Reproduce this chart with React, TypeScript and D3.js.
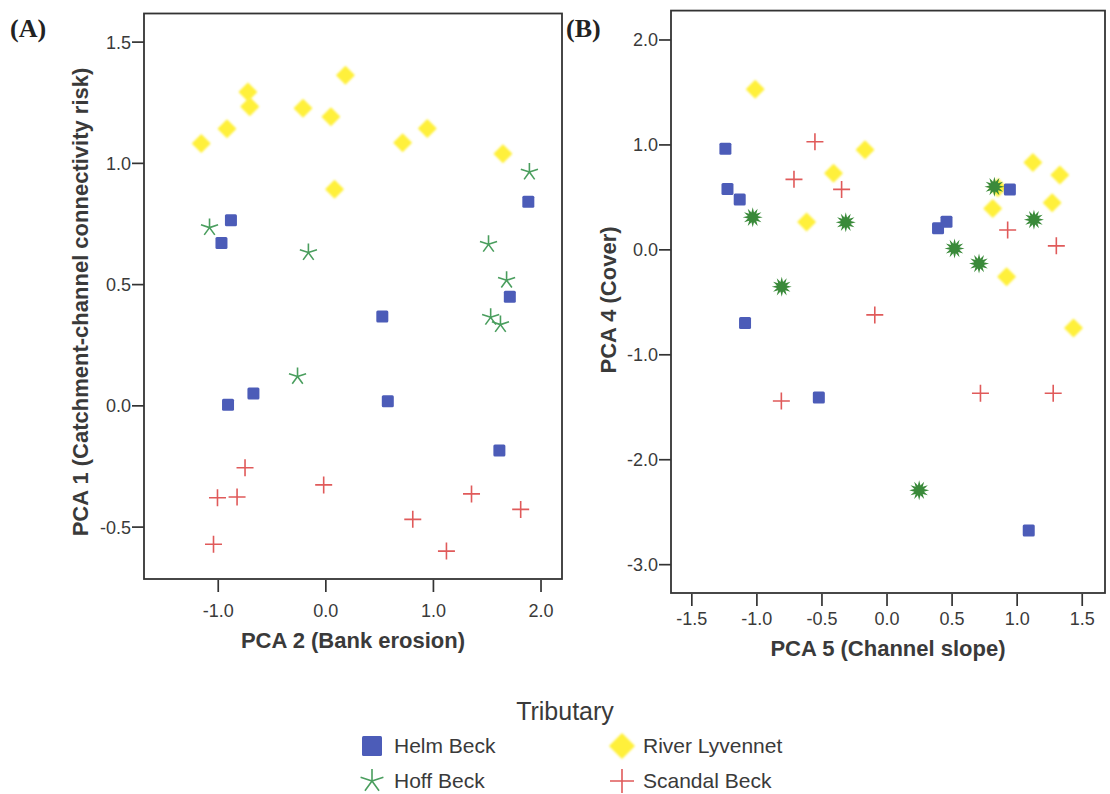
import React from "react";
import * as d3 from "d3";

// ---------- Panel A data: PCA 2 (x) vs PCA 1 (y) ----------
const helmA_x = [-0.882, -0.970, 1.882, 1.710, 0.525, -0.909, -0.673, 0.576, 1.613];
const helmA_y = [0.765, 0.672, 0.842, 0.450, 0.368, 0.005, 0.051, 0.019, -0.184];
const hoffA_x = [-1.081, -0.162, 1.892, 1.512, 1.680, 1.532, 1.623, -0.263];
const hoffA_y = [0.735, 0.632, 0.964, 0.666, 0.518, 0.365, 0.335, 0.121];
const lyvA_x = [-1.158, -0.919, -0.724, -0.707, -0.212, 0.047, 0.182, 0.081, 0.714, 0.943, 1.646];
const lyvA_y = [1.082, 1.143, 1.294, 1.234, 1.227, 1.192, 1.363, 0.893, 1.085, 1.144, 1.040];
const scanA_x = [-0.751, -1.007, -0.825, -1.044, -0.020, 0.808, 1.121, 1.354, 1.811];
const scanA_y = [-0.255, -0.379, -0.376, -0.571, -0.326, -0.468, -0.599, -0.363, -0.427];

// ---------- Panel B data: PCA 5 (x) vs PCA 4 (y) ----------
const helmB_x = [-1.242, -1.226, -1.132, 0.392, 0.457, 0.944, -1.091, -0.524, 1.089];
const helmB_y = [0.963, 0.579, 0.480, 0.205, 0.269, 0.576, -0.697, -1.408, -2.675];
const hoffB_x = [-1.032, -0.317, -0.809, 0.519, 0.707, 1.129, 0.825, 0.247];
const hoffB_y = [0.310, 0.262, -0.352, 0.013, -0.131, 0.288, 0.602, -2.292];
const lyvB_x = [-1.013, -0.169, -0.411, -0.618, 0.852, 0.812, 1.121, 1.328, 1.269, 0.919, 1.433];
const lyvB_y = [1.530, 0.954, 0.730, 0.266, 0.592, 0.394, 0.832, 0.714, 0.448, -0.256, -0.745];
const scanB_x = [-0.554, -0.715, -0.349, 0.927, 1.301, -0.094, -0.812, 0.718, 1.277];
const scanB_y = [1.030, 0.672, 0.576, 0.189, 0.038, -0.620, -1.440, -1.367, -1.367];

const ticksAx = [-1.0, 0.0, 1.0, 2.0];
const ticksAy = [1.5, 1.0, 0.5, 0.0, -0.5];
const ticksBx = [-1.5, -1.0, -0.5, 0.0, 0.5, 1.0, 1.5];
const ticksBy = [2.0, 1.0, 0.0, -1.0, -2.0, -3.0];

const tributaries = ["Helm Beck", "Hoff Beck", "River Lyvennet", "Scandal Beck"];

const C_BLUE = "#4c5cb8";
const C_GREEN = "#4a9e5e";
const C_GREEN_DARK = "#3a8a3a";
const C_YELLOW = "#fff03a";
const C_RED = "#e05a5a";
const TXT = "#3a3a3a";
const FONT = "'Liberation Sans', Arial, sans-serif";

function zip(xs: number[], ys: number[]) {
  return xs.map((x, i) => ({ x, y: ys[i] }));
}

function starPath(r: number, arms: number) {
  let d = "";
  for (let i = 0; i < arms; i++) {
    const a = -Math.PI / 2 + (i * 2 * Math.PI) / arms;
    d += `M0,0L${(r * Math.cos(a)).toFixed(2)},${(r * Math.sin(a)).toFixed(2)}`;
  }
  return d;
}

function burstPath(ro: number, ri: number, n: number) {
  const pts: string[] = [];
  for (let i = 0; i < n * 2; i++) {
    const a = -Math.PI / 2 + (i * Math.PI) / n;
    const r = i % 2 === 0 ? ro : ri;
    pts.push(`${(r * Math.cos(a)).toFixed(2)},${(r * Math.sin(a)).toFixed(2)}`);
  }
  return "M" + pts.join("L") + "Z";
}

function diamondPath(h: number) {
  return `M0,${-h}L${h},0L0,${h}L${-h},0Z`;
}

function crossPath(r: number) {
  return `M${-r},0L${r},0M0,${-r}L0,${r}`;
}

type PanelProps = {
  left: number; right: number; top: number; bottom: number;
  xDom: [number, number]; yDom: [number, number];
  xTicks: number[]; yTicks: number[];
  xTitle: string; yTitle: string; yTitleX: number; yTitleY: number;
  xLabOff: number; xTitleOff: number;
  helm: { x: number; y: number }[];
  hoff: { x: number; y: number }[];
  lyv: { x: number; y: number }[];
  scan: { x: number; y: number }[];
  burst: boolean;
  label: string; labelX: number;
};

function Panel(p: PanelProps) {
  const xs = d3.scaleLinear().domain(p.xDom).range([p.left, p.right]);
  const ys = d3.scaleLinear().domain(p.yDom).range([p.bottom, p.top]);
  const fmt = (v: number) => d3.format(".1f")(v).replace("\u2212", "-");
  const cx = (p.left + p.right) / 2;
  return (
    <g>
      <text x={p.labelX} y={37} fontFamily="'Liberation Serif', 'Times New Roman', serif" fontWeight="bold" fontSize={26} fill="#222">{p.label}</text>
      <rect x={p.left} y={p.top} width={p.right - p.left} height={p.bottom - p.top} fill="white" stroke="#333" strokeWidth={1.8} />
      {p.xTicks.map((t) => (
        <g key={"xt" + t}>
          <line x1={xs(t)} x2={xs(t)} y1={p.bottom + 1} y2={p.bottom + 13} stroke="#333" strokeWidth={1.7} />
          <text x={xs(t)} y={p.bottom + p.xLabOff} textAnchor="middle" fontFamily={FONT} fontSize={18} fill={TXT}>{fmt(t)}</text>
        </g>
      ))}
      {p.yTicks.map((t) => (
        <g key={"yt" + t}>
          <line x1={p.left - 12} x2={p.left} y1={ys(t)} y2={ys(t)} stroke="#333" strokeWidth={1.7} />
          <text x={p.left - 13} y={ys(t) + 6.5} textAnchor="end" fontFamily={FONT} fontSize={18} fill={TXT}>{fmt(t)}</text>
        </g>
      ))}
      <text x={cx} y={p.bottom + p.xTitleOff} textAnchor="middle" fontFamily={FONT} fontWeight="bold" fontSize={22} fill={TXT}>{p.xTitle}</text>
      <text transform={`translate(${p.yTitleX},${p.yTitleY}) rotate(-90)`} textAnchor="middle" fontFamily={FONT} fontWeight="bold" fontSize={22} fill={TXT}>{p.yTitle}</text>
      <g>
        {p.lyv.map((d, i) => (
          <path key={"l" + i} d={diamondPath(8.5)} transform={`translate(${xs(d.x)},${ys(d.y)})`} fill={C_YELLOW} stroke={C_YELLOW} strokeWidth={1.5} strokeLinejoin="round" filter="url(#soft)" />
        ))}
        {p.hoff.map((d, i) =>
          p.burst ? (
            <path key={"h" + i} d={burstPath(10, 5, 12)} transform={`translate(${xs(d.x)},${ys(d.y)})`} fill={C_GREEN_DARK} />
          ) : (
            <path key={"h" + i} d={starPath(9, 5)} transform={`translate(${xs(d.x)},${ys(d.y)})`} fill="none" stroke={C_GREEN} strokeWidth={1.6} />
          )
        )}
        {p.helm.map((d, i) => (
          <rect key={"b" + i} x={xs(d.x) - 6} y={ys(d.y) - 6} width={12} height={12} rx={1.5} fill={C_BLUE} />
        ))}
        {p.scan.map((d, i) => (
          <path key={"s" + i} d={crossPath(8.5)} transform={`translate(${xs(d.x)},${ys(d.y)})`} stroke={C_RED} strokeWidth={1.6} fill="none" />
        ))}
      </g>
    </g>
  );
}

export default function App() {
  return (
    <svg width={1110} height={794} style={{ position: "absolute", left: 0, top: 0, background: "white" }}>
      <defs>
        <filter id="soft" x="-50%" y="-50%" width="200%" height="200%">
          <feGaussianBlur stdDeviation="0.9" />
        </filter>
      </defs>
      <rect width={1110} height={794} fill="white" />
      <Panel
        left={144} right={562} top={13.5} bottom={579}
        xDom={[-1.69, 2.195]} yDom={[-0.714, 1.618]}
        xTicks={ticksAx} yTicks={ticksAy}
        xTitle="PCA 2 (Bank erosion)" yTitle="PCA 1 (Catchment-channel connectivity risk)" yTitleX={88} yTitleY={302}
        xLabOff={38} xTitleOff={69}
        helm={zip(helmA_x, helmA_y)} hoff={zip(hoffA_x, hoffA_y)}
        lyv={zip(lyvA_x, lyvA_y)} scan={zip(scanA_x, scanA_y)}
        burst={false} label="(A)" labelX={10}
      />
      <Panel
        left={671} right={1105} top={10.6} bottom={593}
        xDom={[-1.66, 1.675]} yDom={[-3.27, 2.28]}
        xTicks={ticksBx} yTicks={ticksBy}
        xTitle="PCA 5 (Channel slope)" yTitle="PCA 4 (Cover)" yTitleX={616} yTitleY={300}
        xLabOff={32} xTitleOff={63}
        helm={zip(helmB_x, helmB_y)} hoff={zip(hoffB_x, hoffB_y)}
        lyv={zip(lyvB_x, lyvB_y)} scan={zip(scanB_x, scanB_y)}
        burst={true} label="(B)" labelX={566}
      />
      {/* Legend */}
      <text x={565} y={720} textAnchor="middle" fontFamily={FONT} fontSize={25} fill={TXT}>Tributary</text>
      <g fontFamily={FONT} fontSize={21} fill={TXT}>
        <rect x={362} y={736} width={20} height={20} rx={1.5} fill={C_BLUE} />
        <text x={394} y={753}>{tributaries[0]}</text>
        <path d={starPath(12, 5)} transform="translate(372,781)" stroke={C_GREEN} strokeWidth={1.6} fill="none" />
        <text x={394} y={788}>{tributaries[1]}</text>
        <path d={diamondPath(12)} transform="translate(622,746)" fill={C_YELLOW} stroke={C_YELLOW} strokeWidth={1.5} strokeLinejoin="round" filter="url(#soft)" />
        <text x={643} y={753}>{tributaries[2]}</text>
        <path d={crossPath(12)} transform="translate(622,781)" stroke={C_RED} strokeWidth={1.6} fill="none" />
        <text x={643} y={788}>{tributaries[3]}</text>
      </g>
    </svg>
  );
}
